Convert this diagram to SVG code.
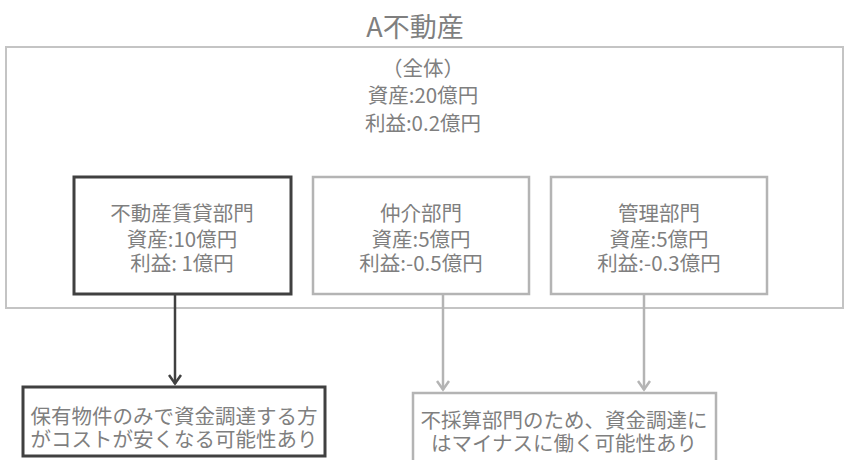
<svg xmlns="http://www.w3.org/2000/svg" width="857" height="460" viewBox="0 0 857 460">
<defs>
<style>
text{font-family:"Noto Sans CJK JP","Noto Sans",sans-serif;fill:#7f7f7f;text-anchor:middle;dominant-baseline:central}
.title{font-size:27px}
.t{font-size:20.5px}
.outer{fill:#fff;stroke:#c4c4c4;stroke-width:2}
.dark{fill:#fff;stroke:#404040;stroke-width:3}
.gray{fill:#fff;stroke:#b4b4b4;stroke-width:2.5}
.cd{fill:none;stroke:#404040;stroke-width:2.5}
.cg{fill:none;stroke:#b4b4b4;stroke-width:2.5}
</style>
<marker id="ad" markerUnits="userSpaceOnUse" markerWidth="12" markerHeight="14" refX="10.5" refY="7" orient="auto" viewBox="0 0 12 14">
<path d="M1.5,1 L10,7 L1.5,13" fill="none" stroke="#404040" stroke-width="2.5"/>
</marker>
<marker id="ag" markerUnits="userSpaceOnUse" markerWidth="12" markerHeight="14" refX="10.5" refY="7" orient="auto" viewBox="0 0 12 14">
<path d="M1.5,1 L10,7 L1.5,13" fill="none" stroke="#b4b4b4" stroke-width="2.5"/>
</marker>
</defs>
<rect width="857" height="460" fill="#fff"/>
<text class="title" x="415" y="25">A不動産</text>
<g id="whole">
<rect class="outer" x="6" y="47" width="837" height="261"/>
<text class="t"><tspan x="423" y="67">（全体）</tspan><tspan x="423" y="94">資産:20億円</tspan><tspan x="423" y="122">利益:0.2億円</tspan></text>
</g>
<g id="connectors">
<line class="cd" x1="175" y1="294" x2="175" y2="384" marker-end="url(#ad)"/>
<line class="cg" x1="443" y1="294" x2="443" y2="390" marker-end="url(#ag)"/>
<line class="cg" x1="644" y1="294" x2="644" y2="390" marker-end="url(#ag)"/>
</g>
<g id="rental">
<rect class="dark" x="74" y="177" width="217" height="117"/>
<text class="t"><tspan x="182" y="212">不動産賃貸部門</tspan><tspan x="182" y="238">資産:10億円</tspan><tspan x="182" y="262">利益: 1億円</tspan></text>
</g>
<g id="brokerage">
<rect class="gray" x="313" y="177" width="216" height="117"/>
<text class="t"><tspan x="421" y="212">仲介部門</tspan><tspan x="421" y="238">資産:5億円</tspan><tspan x="421" y="262">利益:-0.5億円</tspan></text>
</g>
<g id="admin">
<rect class="gray" x="551" y="177" width="216" height="117"/>
<text class="t"><tspan x="659" y="212">管理部門</tspan><tspan x="659" y="238">資産:5億円</tspan><tspan x="659" y="262">利益:-0.3億円</tspan></text>
</g>
<g id="note-left">
<rect class="dark" x="23" y="387" width="302" height="69"/>
<text class="t"><tspan x="174" y="415">保有物件のみで資金調達する方</tspan><tspan x="174" y="438">がコストが安くなる可能性あり</tspan></text>
</g>
<g id="note-right">
<rect class="gray" x="413" y="393" width="303" height="75"/>
<text class="t"><tspan x="564" y="419">不採算部門のため、資金調達に</tspan><tspan x="564" y="442">はマイナスに働く可能性あり</tspan></text>
</g>
</svg>
